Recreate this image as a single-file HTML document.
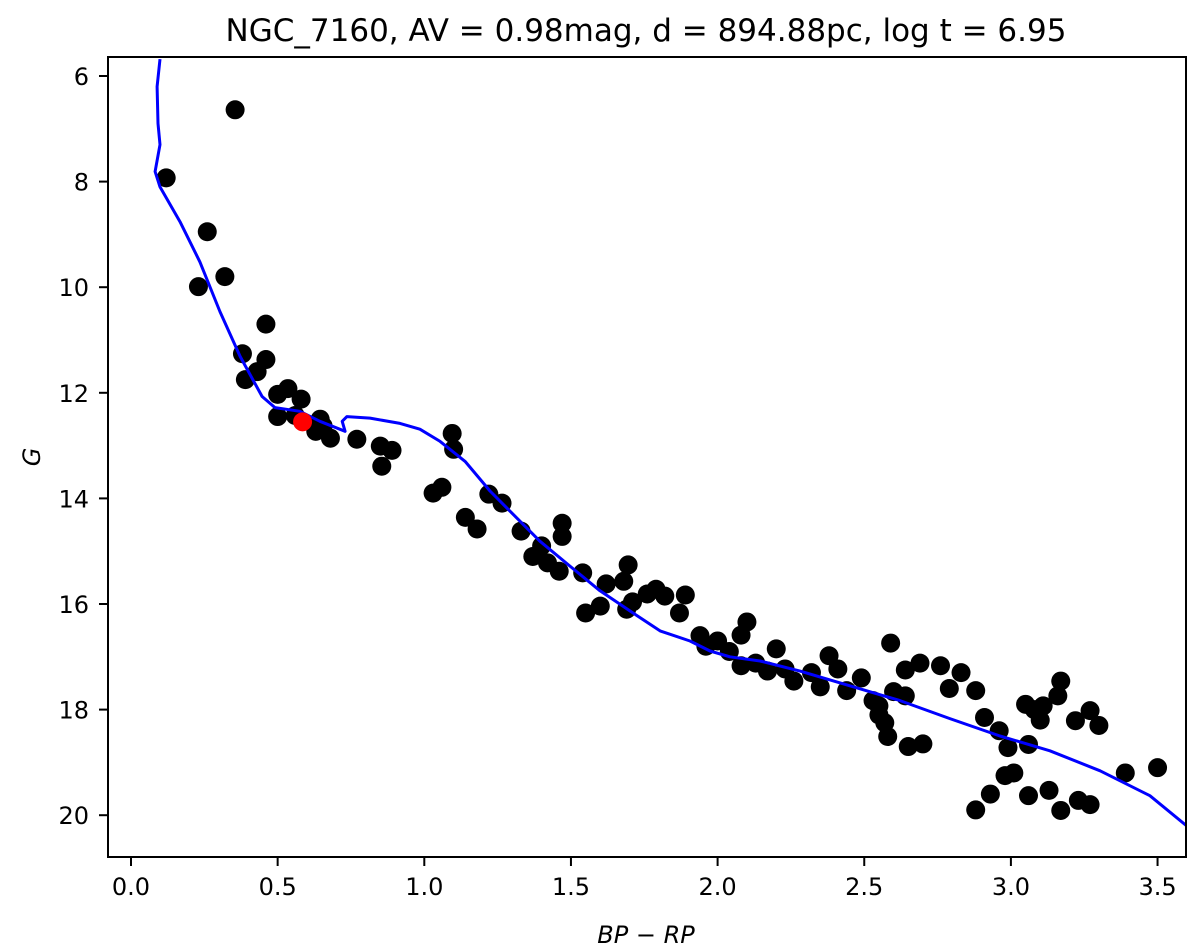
<!DOCTYPE html>
<html><head><meta charset="utf-8"><style>
body{margin:0;background:#fff;}
svg{display:block;font-family:"DejaVu Sans","Liberation Sans",sans-serif;}
</style></head><body>
<svg id="chart" width="1200" height="947">
<text x="646" y="41" font-size="31" text-anchor="middle">NGC_7160, AV = 0.98mag, d = 894.88pc, log t = 6.95</text>
<g id="plot"></g>
<rect x="108" y="57" width="1078" height="800" fill="none" stroke="#000" stroke-width="2"/>
<text x="646" y="943" font-size="24" font-style="italic" text-anchor="middle">BP − RP</text>
<text transform="translate(40,457) rotate(-90)" font-size="24" font-style="italic" text-anchor="middle">G</text>
</svg>
<script>
const xTicks=[0,0.5,1.0,1.5,2.0,2.5,3.0,3.5];
const xTickLabels=["0.0","0.5","1.0","1.5","2.0","2.5","3.0","3.5"];
const yTicks=[6,8,10,12,14,16,18,20];
const yTickLabels=["6","8","10","12","14","16","18","20"];
const starBP=[0.355,0.12,0.26,0.32,0.23,0.46,0.38,0.46,0.39,0.43,0.5,0.535,0.58,0.5,0.56,0.645,0.63,0.68,0.655,0.77,0.85,0.89,0.855,1.095,1.1,1.03,1.06,1.14,1.18,1.22,1.265,1.33,1.37,1.4,1.42,1.47,1.47,1.46,1.54,1.55,1.6,1.62,1.68,1.695,1.71,1.69,1.76,1.79,1.82,1.87,1.89,1.94,1.96,2.0,2.04,2.08,2.1,2.08,2.13,2.17,2.2,2.23,2.26,2.32,2.35,2.38,2.41,2.44,2.49,2.53,2.55,2.57,2.55,2.6,2.64,2.58,2.59,2.64,2.69,2.76,2.79,2.83,2.88,2.91,2.96,2.99,3.06,3.11,3.16,3.22,3.27,3.3,3.17,3.01,3.06,3.13,3.17,3.23,3.27,3.39,3.5,2.88,2.93,2.65,2.7,3.05,3.08,3.1,2.98];
const starG=[6.64,7.93,8.95,9.8,9.99,10.7,11.26,11.37,11.75,11.6,12.03,11.92,12.12,12.45,12.43,12.5,12.73,12.86,12.63,12.88,13.01,13.09,13.39,12.77,13.07,13.9,13.79,14.36,14.58,13.92,14.09,14.62,15.1,14.9,15.22,14.47,14.72,15.38,15.41,16.17,16.04,15.62,15.57,15.26,15.96,16.1,15.81,15.72,15.85,16.17,15.83,16.6,16.8,16.7,16.9,16.59,16.34,17.17,17.12,17.27,16.85,17.23,17.46,17.3,17.57,16.98,17.23,17.64,17.4,17.83,18.1,18.25,17.93,17.66,17.74,18.51,16.74,17.25,17.12,17.17,17.6,17.3,17.64,18.15,18.4,18.72,18.66,17.93,17.74,18.21,18.02,18.3,17.46,19.2,19.63,19.53,19.91,19.72,19.8,19.2,19.1,19.9,19.6,18.7,18.65,17.9,18.0,18.2,19.25];
const isoBP=[0.099,0.089,0.092,0.099,0.082,0.099,0.167,0.235,0.303,0.372,0.447,0.491,0.576,0.644,0.73,0.72,0.736,0.815,0.917,0.985,1.054,1.139,1.224,1.292,1.394,1.496,1.599,1.701,1.804,1.906,1.974,2.042,2.145,2.281,2.451,2.622,2.792,2.963,3.133,3.304,3.474,3.61];
const isoG=[5.68,6.2,6.9,7.3,7.81,8.10,8.76,9.52,10.46,11.31,12.07,12.28,12.35,12.54,12.73,12.54,12.45,12.48,12.58,12.69,12.92,13.30,13.86,14.24,14.81,15.28,15.75,16.13,16.51,16.70,16.89,17.00,17.08,17.27,17.55,17.83,18.17,18.50,18.78,19.16,19.63,20.25];
const memberBP=[0.585];
const memberG=[12.55];

const X=v=>131+v*293.3;
const Y=v=>76+(v-6)*52.8;
const NS="http://www.w3.org/2000/svg";
const g=document.getElementById('plot');
function mk(t,a,p){const e=document.createElementNS(NS,t);for(const k in a)e.setAttribute(k,a[k]);(p||g).appendChild(e);return e;}
const clip=mk('clipPath',{id:'clp'});mk('rect',{x:108,y:57,width:1078,height:800},clip);
xTicks.forEach((v,i)=>{
  const l=mk('line',{x1:X(v),x2:X(v),y1:857,y2:866,stroke:'#000','stroke-width':2});
  
  
  const t=mk('text',{x:X(v),y:895,'font-size':24,'text-anchor':'middle'});t.textContent=xTickLabels[i];
  
  
});
yTicks.forEach((v,i)=>{
  const l=mk('line',{x1:99,x2:108,y1:Y(v),y2:Y(v),stroke:'#000','stroke-width':2});
  
  
  const t=mk('text',{x:89,y:Y(v)+9,'font-size':24,'text-anchor':'end'});t.textContent=yTickLabels[i];
  
  
});
const sg=mk('g',{'clip-path':'url(#clp)'});
starBP.forEach((v,i)=>{
  const c=mk('circle',{cx:X(v),cy:Y(starG[i]),r:9.5,fill:'#000'},sg);
  
  
});
const d=isoBP.map((v,i)=>(i?'L':'M')+X(v).toFixed(1)+','+Y(isoG[i]).toFixed(1)).join(' ');
const p=mk('path',{d:d,fill:'none',stroke:'#0000ff','stroke-width':3,'stroke-linejoin':'round'},sg);


memberBP.forEach((v,i)=>{
  const c=mk('circle',{cx:X(v),cy:Y(memberG[i]),r:9.5,fill:'#ff0000'},sg);
  
  
});
</script>
</body></html>
